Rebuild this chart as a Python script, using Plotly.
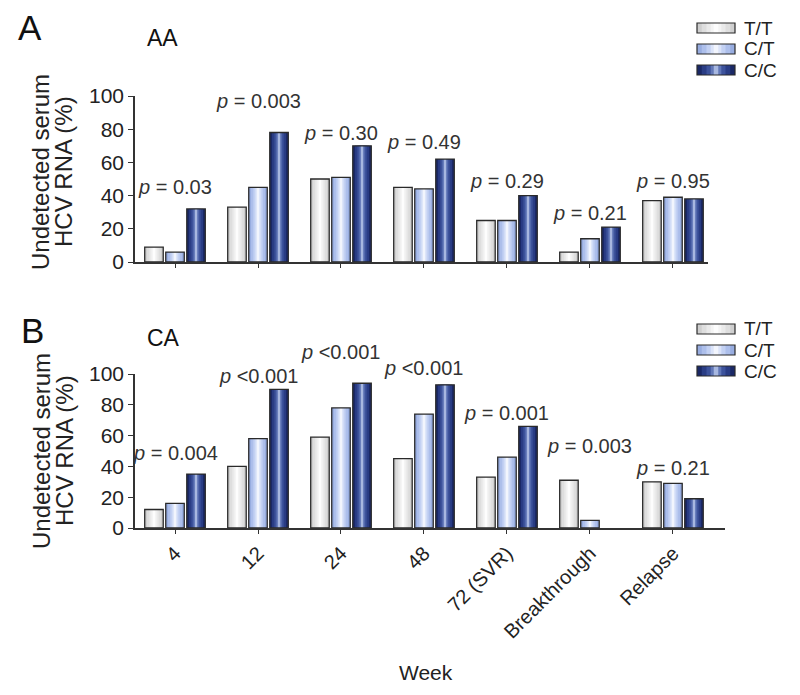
import plotly.graph_objects as go

# ---------------- data ----------------
categories = ["4", "12", "24", "48", "72 (SVR)", "Breakthrough", "Relapse"]
genotypes = ["T/T", "C/T", "C/C"]

aa_tt = [9, 33, 50, 45, 25, 6, 37]
aa_ct = [6, 45, 51, 44, 25, 14, 39]
aa_cc = [32, 78, 70, 62, 40, 21, 38]

ca_tt = [12, 40, 59, 45, 33, 31, 30]
ca_ct = [16, 58, 78, 74, 46, 5, 29]
ca_cc = [35, 90, 94, 93, 66, None, 19]

aa_p = ["= 0.03", "= 0.003", "= 0.30", "= 0.49", "= 0.29", "= 0.21", "= 0.95"]
ca_p = ["= 0.004", "<0.001", "<0.001", "<0.001", "= 0.001", "= 0.003", "= 0.21"]

# label heights (data units) for the p-value annotations
aa_p_y = [45, 97, 78, 72, 49, 29.5, 49]
ca_p_y = [49, 99, 114, 104, 75, 53, 39]

# ---------------- style ----------------
W, H = 800, 695
OFF = 8  # page body margin
FONT = "Liberation Sans, Arial, Helvetica, sans-serif"
edge = "#2a2a2a"
txt = "#222222"
# cylinder-like shading per genotype, from outer tone to highlight
shades = [
    ["#cfcfcf", "#dedede", "#eaeaea", "#f4f4f4", "#fdfdfd"],
    ["#98ade0", "#adbfeb", "#c3d1f3", "#dbe4f9", "#f2f5fd"],
    ["#1a2866", "#2a3d85", "#3d539c", "#6278b8", "#a7b7e0"],
]
rel_widths = [1.0, 0.75, 0.5, 0.28, 0.12]
BAR_W = 0.223


def px_x(p):
    return (p - OFF) / W


def px_y(p):
    return 1 - (p - OFF) / H


fig = go.Figure()

panels = [
    ("x", "y", [aa_tt, aa_ct, aa_cc]),
    ("x2", "y2", [ca_tt, ca_ct, ca_cc]),
]
for xa, ya, series in panels:
    for k, (name, vals, sh) in enumerate(zip(genotypes, series, shades)):
        for rel, col in zip(rel_widths, sh):
            fig.add_trace(go.Bar(
                x=categories, y=vals, name=name, xaxis=xa, yaxis=ya,
                offsetgroup=str(k), width=BAR_W * rel,
                marker=dict(color=col, line=dict(width=0)),
                showlegend=False, hoverinfo="skip" if rel < 1 else "x+y+name",
            ))
        # outline on top
        fig.add_trace(go.Bar(
            x=categories, y=vals, name=name, xaxis=xa, yaxis=ya,
            offsetgroup=str(k), width=BAR_W,
            marker=dict(color="rgba(0,0,0,0)", line=dict(color=edge, width=1.3)),
            showlegend=False, hoverinfo="skip",
        ))

axis_common = dict(showline=True, linecolor="#333", linewidth=1.6,
                   ticks="outside", tickcolor="#333", showgrid=False,
                   zeroline=False, automargin=False,
                   tickfont=dict(family=FONT, size=21, color=txt))

fig.update_layout(
    template="none",
    width=W, height=H,
    margin=dict(l=0, r=0, t=0, b=0, pad=0, autoexpand=False),
    paper_bgcolor="white", plot_bgcolor="white",
    showlegend=False,
    barmode="group", bargap=0.24, bargroupgap=0.12,
    font=dict(family=FONT, color=txt),
    xaxis=dict(axis_common, type="category", domain=[px_x(135), px_x(708)],
               range=[-0.482, 6.422], anchor="y", ticklen=4,
               showticklabels=False),
    yaxis=dict(axis_common, domain=[px_y(262), px_y(96)], range=[0, 100],
               dtick=20, ticklen=5, anchor="x"),
    xaxis2=dict(axis_common, type="category", domain=[px_x(135), px_x(725)],
                range=[-0.482, 6.627], anchor="y2", ticklen=4,
                tickangle=-45, tickfont=dict(family=FONT, size=20, color=txt)),
    yaxis2=dict(axis_common, domain=[px_y(528), px_y(374)], range=[0, 100],
                dtick=20, ticklen=5, anchor="x2"),
)

ann = []
# p-value labels (x = category index, y in axis-domain fraction)
for xa, ya, plist, ylist in [("x", "y", aa_p, aa_p_y), ("x2", "y2", ca_p, ca_p_y)]:
    for i, (p, yy) in enumerate(zip(plist, ylist)):
        ann.append(dict(x=i, y=yy / 100, xref=xa, yref=ya + " domain",
                        text="<i>p</i> " + p,
                        showarrow=False, xanchor="center", yanchor="middle",
                        font=dict(family=FONT, size=20, color="#333")))

# panel letters and group titles
head = [
    dict(x=px_x(16), y=px_y(27), text="A", font=dict(size=35, color="#111")),
    dict(x=px_x(145), y=px_y(38), text="AA", font=dict(size=23, color="#111")),
    dict(x=px_x(19), y=px_y(331), text="B", font=dict(size=35, color="#111")),
    dict(x=px_x(145), y=px_y(338), text="CA", font=dict(size=23, color="#111")),
]
for a in head:
    a.update(xref="paper", yref="paper", showarrow=False, xanchor="left",
             yanchor="middle")
ann += head

# y-axis titles (two tight lines)
for yc in [172, 451]:
    for xc, line in [(41, "Undetected serum"), (64, "HCV RNA (%)")]:
        ann.append(dict(x=px_x(xc), y=px_y(yc), xref="paper", yref="paper",
                        text=line, textangle=-90,
                        showarrow=False, xanchor="center", yanchor="middle",
                        font=dict(family=FONT, size=24, color=txt)))

# x-axis title
ann.append(dict(x=px_x(426), y=px_y(672), xref="paper", yref="paper",
                text="Week", showarrow=False, xanchor="center",
                yanchor="middle", font=dict(family=FONT, size=21, color=txt)))

# custom legends (wide shaded swatches)
shapes = []
for top in [28, 329]:
    for i, (name, sh) in enumerate(zip(genotypes, shades)):
        yc = top + 21 * i
        x0, x1 = 697, 735
        xm = (x0 + x1) / 2
        for rel, col in zip(rel_widths, sh):
            half = (x1 - x0) / 2 * rel
            shapes.append(dict(type="rect", xref="paper", yref="paper",
                               x0=px_x(xm - half), x1=px_x(xm + half),
                               y0=px_y(yc + 5), y1=px_y(yc - 5),
                               fillcolor=col, line=dict(width=0)))
        shapes.append(dict(type="rect", xref="paper", yref="paper",
                           x0=px_x(x0), x1=px_x(x1),
                           y0=px_y(yc + 5), y1=px_y(yc - 5),
                           line=dict(color=edge, width=1.2)))
        ann.append(dict(x=px_x(742), y=px_y(yc), xref="paper", yref="paper",
                        text=name, showarrow=False, xanchor="left",
                        yanchor="middle",
                        font=dict(family=FONT, size=19, color=txt)))

fig.update_layout(annotations=ann, shapes=shapes)

fig.write_html("out.html")
